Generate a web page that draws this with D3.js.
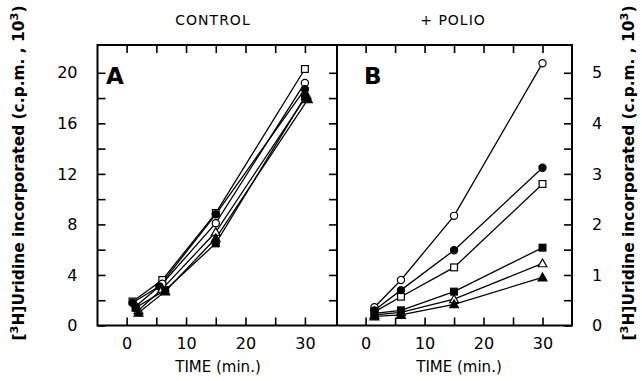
<!DOCTYPE html>
<html>
<head>
<meta charset="utf-8">
<script src="https://cdn.jsdelivr.net/npm/d3@7"></script>
<style>
  body { margin: 0; background: #fff; }
  svg { display: block; }
  text { font-family: "DejaVu Sans", sans-serif; fill: #000; }
</style>
</head>
<body>
<div id="chart"></div>
<script>
// sampling times (min) and values
const timesA = {
  openSquare:   [1.0, 6.0, 15, 30],
  openCircle:   [1.5, 6.0, 15, 30],
  fillCircle:   [1.0, 5.5, 15, 30],
  openTri:      [2.0, 6.0, 15, 30.3],
  fillTri:      [2.0, 6.5, 15, 30.5],
  fillSquare:   [1.5, 6.5, 15, 30]
};
const controlA = {
  openSquare:   [1.9, 3.6, 8.9, 20.3],
  openCircle:   [1.5, 3.3, 8.1, 19.2],
  fillCircle:   [1.8, 3.1, 8.8, 18.7],
  openTri:      [1.2, 2.9, 7.4, 18.2],
  fillTri:      [1.0, 2.7, 6.9, 17.9],
  fillSquare:   [1.4, 2.8, 6.5, 18.1]
};
const timesB = [1.5, 6, 15, 30];
const polioB = {
  openCircle:   [0.36, 0.90, 2.17, 5.19],
  fillCircle:   [0.30, 0.70, 1.49, 3.12],
  openSquare:   [0.27, 0.57, 1.15, 2.80],
  fillSquare:   [0.24, 0.30, 0.67, 1.54],
  openTri:      [0.21, 0.26, 0.52, 1.23],
  fillTri:      [0.18, 0.21, 0.42, 0.95]
};
const seriesKeys = ["openSquare", "openCircle", "fillCircle", "openTri", "fillTri", "fillSquare"];
const yTicksA = [2, 4, 6, 8, 10, 12, 14, 16, 18, 20];
const yLabelsA = [0, 4, 8, 12, 16, 20];
const yTicksB = [0.5, 1, 1.5, 2, 2.5, 3, 3.5, 4, 4.5, 5];
const yLabelsB = [0, 1, 2, 3, 4, 5];
const xTicks = [0, 5, 10, 15, 20, 25, 30];
const xLabels = [0, 10, 20, 30];

const W = 642, H = 381;
const plotTop = 45, plotBottom = 325.5;
const aLeft = 97.5, mid = 337, bRight = 572;

const svg = d3.select("#chart").append("svg").attr("width", W).attr("height", H);

const xA = d3.scaleLinear().domain([-4.9, 35.4]).range([aLeft, mid]);
const xB = d3.scaleLinear().domain([-4.85, 35]).range([mid, bRight]);
const yA = d3.scaleLinear().domain([0, 22.2]).range([plotBottom, plotTop]);
const yB = d3.scaleLinear().domain([0, 5.55]).range([plotBottom, plotTop]);

function styleAxis(g) {
  g.select(".domain").remove();
  g.selectAll(".tick line").attr("stroke", "#000").attr("stroke-width", 1.6);
  g.selectAll(".tick text").style("font-size", "16px");
}

// x axes (bottom + top ticks) for both panels
[xA, xB].forEach(x => {
  svg.append("g").attr("transform", `translate(0,${plotBottom})`)
    .call(d3.axisBottom(x).tickValues(xTicks).tickSizeInner(-8).tickSizeOuter(0).tickPadding(12)
      .tickFormat(d => xLabels.includes(d) ? d : ""))
    .call(styleAxis);
  svg.append("g").attr("transform", `translate(0,${plotTop})`)
    .call(d3.axisTop(x).tickValues(xTicks).tickSizeInner(-8).tickSizeOuter(0).tickFormat(""))
    .call(styleAxis);
});

// left axis of A
svg.append("g").attr("transform", `translate(${aLeft},0)`)
  .call(d3.axisLeft(yA).tickValues([0].concat(yTicksA)).tickSizeInner(-8).tickSizeOuter(0).tickPadding(20)
    .tickFormat(d => yLabelsA.includes(d) ? d : ""))
  .call(styleAxis);
// ticks on divider, facing A
svg.append("g").attr("transform", `translate(${mid},0)`)
  .call(d3.axisRight(yA).tickValues(yTicksA).tickSizeInner(-8).tickSizeOuter(0).tickFormat(""))
  .call(styleAxis);
// right axis of B
svg.append("g").attr("transform", `translate(${bRight},0)`)
  .call(d3.axisRight(yB).tickValues([0].concat(yTicksB)).tickSizeInner(-8).tickSizeOuter(0).tickPadding(20)
    .tickFormat(d => yLabelsB.includes(d) ? d : ""))
  .call(styleAxis);

// frames
svg.append("rect").attr("x", aLeft).attr("y", plotTop).attr("width", bRight - aLeft).attr("height", plotBottom - plotTop)
  .attr("fill", "none").attr("stroke", "#000").attr("stroke-width", 2);
svg.append("line").attr("x1", mid).attr("x2", mid).attr("y1", plotTop).attr("y2", plotBottom)
  .attr("stroke", "#000").attr("stroke-width", 2);

// markers
function marker(g, key, cx, cy) {
  const filled = key.startsWith("fill");
  const fill = filled ? "#000" : "#fff";
  if (key.endsWith("Circle")) {
    g.append("circle").attr("cx", cx).attr("cy", cy).attr("r", 3.6)
      .attr("fill", fill).attr("stroke", "#000").attr("stroke-width", 1.2);
  } else if (key.endsWith("Square")) {
    g.append("rect").attr("x", cx - 3.4).attr("y", cy - 3.4).attr("width", 6.8).attr("height", 6.8)
      .attr("fill", fill).attr("stroke", "#000").attr("stroke-width", 1.2);
  } else {
    g.append("path").attr("d", `M${cx},${cy - 4.4}L${cx + 4.4},${cy + 3.4}L${cx - 4.4},${cy + 3.4}Z`)
      .attr("fill", fill).attr("stroke", "#000").attr("stroke-width", 1.2);
  }
}

const line = d3.line();

function drawPanel(x, y, timesFor, data) {
  const g = svg.append("g");
  seriesKeys.forEach(k => {
    const pts = data[k].map((v, i) => [x(timesFor(k)[i]), y(v)]);
    g.append("path").attr("d", line(pts)).attr("fill", "none")
      .attr("stroke", "#000").attr("stroke-width", 1.3);
  });
  seriesKeys.forEach(k => {
    data[k].forEach((v, i) => marker(g, k, x(timesFor(k)[i]), y(v)));
  });
}
drawPanel(xA, yA, k => timesA[k], controlA);
drawPanel(xB, yB, () => timesB, polioB);

// panel letters and headings
svg.append("text").attr("x", 106).attr("y", 84).style("font-size", "23px").style("font-weight", "bold").text("A");
svg.append("text").attr("x", 364).attr("y", 84).style("font-size", "23px").style("font-weight", "bold").text("B");
svg.append("text").attr("x", 213).attr("y", 25).attr("text-anchor", "middle").style("font-size", "14px")
  .style("letter-spacing", "1px").text("CONTROL");
svg.append("text").attr("x", 453).attr("y", 25).attr("text-anchor", "middle").style("font-size", "14px")
  .style("letter-spacing", "1px").text("+ POLIO");
svg.append("text").attr("x", 218).attr("y", 372).attr("text-anchor", "middle").style("font-size", "15px").text("TIME (min.)");
svg.append("text").attr("x", 459).attr("y", 372).attr("text-anchor", "middle").style("font-size", "15px").text("TIME (min.)");

// rotated y titles
function yTitle(cx) {
  const t = svg.append("text").attr("transform", `translate(${cx},173) rotate(-90)`)
    .attr("text-anchor", "middle").attr("textLength", 335).attr("lengthAdjust", "spacingAndGlyphs")
    .style("font-size", "15px").style("font-weight", "bold");
  t.append("tspan").text("[");
  t.append("tspan").attr("baseline-shift", "super").style("font-size", "11px").text("3");
  t.append("tspan").text("H]Uridine incorporated (c.p.m. , 10");
  t.append("tspan").attr("baseline-shift", "super").style("font-size", "11px").text("3");
  t.append("tspan").text(")");
}
yTitle(24);
yTitle(634);
</script>
</body>
</html>
